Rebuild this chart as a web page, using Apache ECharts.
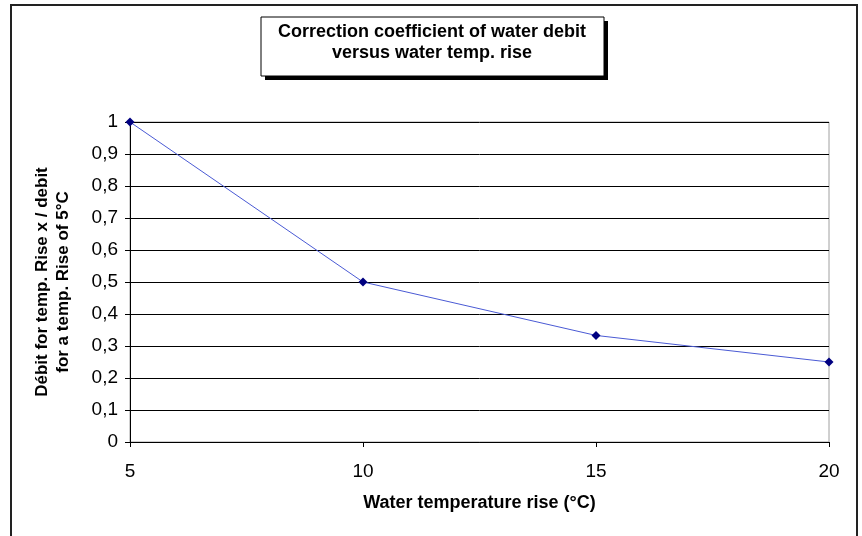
<!DOCTYPE html>
<html><head><meta charset="utf-8">
<script src="https://cdn.jsdelivr.net/npm/echarts@6/dist/echarts.min.js"></script>
<style>html,body{margin:0;padding:0;background:#fff}#c{width:862px;height:536px}</style>
</head><body><div id="c"></div>
<script>
var tempRise = [5, 10, 15, 20];
var coefficient = [1, 0.5, 0.333, 0.25];
var xTicks = [5, 10, 15, 20];
var yTicks = [0, 0.1, 0.2, 0.3, 0.4, 0.5, 0.6, 0.7, 0.8, 0.9, 1];
var titleLines = ['Correction coefficient of water debit', 'versus water temp. rise'];
var xName = 'Water temperature rise (°C)';
var yNameLines = ['Débit for temp. Rise x / debit', 'for a temp. Rise of 5°C'];

var font = 'Liberation Sans, Arial, sans-serif';
var chart = echarts.init(document.getElementById('c'), null, {renderer: 'canvas'});
chart.setOption({
  animation: false,
  backgroundColor: '#fff',
  grid: {left: 130, right: 33, top: 122, bottom: 94, show: true, borderColor: '#a0a0a0', borderWidth: 1, backgroundColor: 'transparent'},
  xAxis: {
    type: 'value', min: 5, max: 20, interval: 5,
    name: xName, nameLocation: 'middle', nameGap: 52,
    nameTextStyle: {fontFamily: font, fontWeight: 'bold', fontSize: 18, color: '#000'},
    axisLine: {show: true, onZero: false, lineStyle: {color: '#000', width: 1}},
    axisTick: {show: true, length: 5, lineStyle: {color: '#000'}},
    axisLabel: {fontFamily: font, fontSize: 19, color: '#000', margin: 20},
    splitLine: {show: false}
  },
  yAxis: {
    type: 'value', min: 0, max: 1, interval: 0.1,
    name: yNameLines.join('\n'), nameLocation: 'middle', nameGap: 56, nameRotate: 90,
    nameTextStyle: {fontFamily: font, fontWeight: 'bold', fontSize: 17, color: '#000', lineHeight: 21},
    axisLine: {show: true, lineStyle: {color: '#000', width: 1}},
    axisTick: {show: true, length: 5, lineStyle: {color: '#000'}},
    axisLabel: {fontFamily: font, fontSize: 19, color: '#000', margin: 12,
      formatter: function (v) { return String(Math.round(v * 10) / 10).replace('.', ','); }},
    splitLine: {show: true, lineStyle: {color: '#000', width: 1}}
  },
  series: [{
    type: 'line',
    data: tempRise.map(function (x, i) { return [x, coefficient[i]]; }),
    symbol: 'diamond', symbolSize: 9,
    itemStyle: {color: '#000080'},
    lineStyle: {color: '#4a5ad4', width: 1}
  }],
  graphic: [
    {type: 'rect', shape: {x: 11, y: 5, width: 846, height: 540}, style: {fill: 'none', stroke: '#222', lineWidth: 2}, silent: true},
    {type: 'rect', shape: {x: 265, y: 21, width: 343, height: 59}, style: {fill: '#000'}, silent: true},
    {type: 'rect', shape: {x: 261, y: 17, width: 343, height: 59}, style: {fill: '#fff', stroke: '#000', lineWidth: 1}, silent: true},
    {type: 'text', x: 432, y: 22, style: {text: titleLines.join('\n'), align: 'center', verticalAlign: 'top', font: 'bold 18px ' + font, lineHeight: 21, fill: '#000'}, silent: true}
  ]
});
</script></body></html>
